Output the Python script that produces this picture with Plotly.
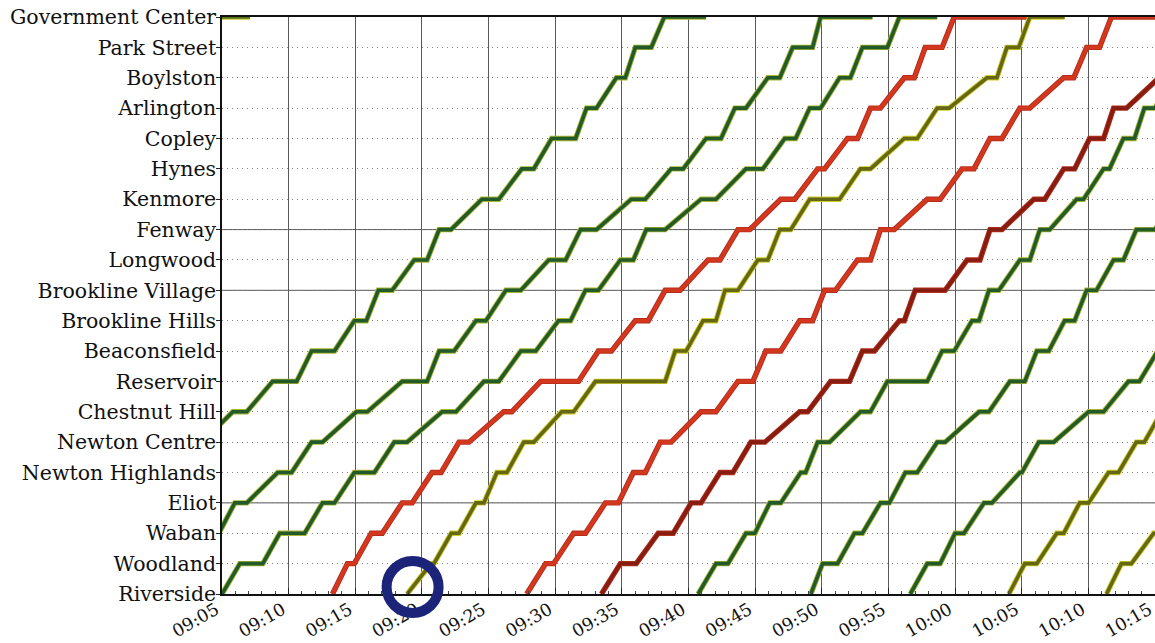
import plotly.graph_objects as go

# ---------------- data ----------------
stations = ["Riverside", "Woodland", "Waban", "Eliot", "Newton Highlands",
            "Newton Centre", "Chestnut Hill", "Reservoir", "Beaconsfield",
            "Brookline Hills", "Brookline Village", "Longwood", "Fenway",
            "Kenmore", "Hynes", "Copley", "Arlington", "Boylston",
            "Park Street", "Government Center"]
major_stations = ["Eliot", "Brookline Village", "Fenway"]

# x ticks (minutes after 09:00) and their labels
tick_minutes = [5, 10, 15, 20, 25, 30, 35, 40, 45, 50, 55, 60, 65, 70, 75]
tick_labels = ["09:05", "09:10", "09:15", "09:20", "09:25", "09:30", "09:35",
               "09:40", "09:45", "09:50", "09:55", "10:00", "10:05", "10:10", "10:15"]

# Each train: index of first station, then [arrive, depart] (minutes after 09:00)
# at each successive inbound station.
t0_start = 18
t0_times = [[2.5, 3.3], [4.1, 7.1]]

a_start = 5
a_times = [[2.5, 3.5], [5.81, 6.86], [8.80, 10.60], [11.72, 13.44], [14.93, 15.83],
           [16.73, 17.77], [19.42, 20.39], [21.29, 22.18], [24.50, 25.77], [27.49, 28.39],
           [29.73, 31.53], [32.35, 33.10], [34.59, 35.26], [36.01, 37.21], [38.18, 41.32]]

b_start = 2
b_times = [[3.0, 4.77], [5.96, 6.86], [9.18, 10.22], [11.72, 12.54], [15.08, 15.90],
           [18.52, 20.39], [21.29, 22.41], [24.05, 24.80], [26.30, 27.42], [29.51, 30.78],
           [31.90, 33.10], [35.71, 36.76], [38.70, 39.60], [41.32, 42.44], [43.48, 44.31],
           [45.95, 46.85], [47.82, 49.31], [49.91, 53.80]]

c_start = 0
c_times = [[4.0, 5.0], [6.34, 8.06], [9.33, 11.20], [12.54, 13.44], [14.93, 16.43],
           [17.92, 18.89], [21.51, 22.56], [24.65, 25.77], [27.42, 28.54], [30.25, 31.15],
           [32.27, 33.24], [34.89, 35.86], [36.83, 38.25], [40.94, 42.06], [44.31, 45.58],
           [47.22, 48.04], [49.09, 49.91], [51.33, 52.15], [53.05, 54.92], [55.82, 58.66]]

r1_start = 0
r1_times = [[13.29, 13.29], [14.41, 14.93], [16.20, 17.03], [18.52, 19.27], [20.76, 21.44],
            [22.78, 23.53], [26.14, 26.74], [28.91, 31.75], [33.24, 34.22], [36.01, 36.98],
            [38.25, 39.37], [41.47, 42.36], [43.71, 44.60], [46.92, 47.97], [49.69, 50.21],
            [51.93, 52.68], [53.65, 54.40], [56.19, 56.94], [57.76, 59.03], [59.93, 65.61]]

y1_start = 0
y1_times = [[18.89, 18.89], [20.69, 20.90], [22.20, 22.78], [24.05, 24.65], [25.62, 26.37],
            [27.64, 28.39], [30.48, 31.38], [33.02, 38.25], [39.00, 39.82], [41.09, 42.06],
            [42.74, 43.71], [45.20, 45.95], [46.85, 47.67], [49.09, 51.33], [52.90, 53.65],
            [56.19, 57.16], [58.66, 59.55], [62.39, 63.14], [63.89, 64.78], [65.61, 68.22]]

r2_start = 0
r2_times = [[27.86, 27.86], [29.28, 29.88], [31.38, 32.27], [33.77, 34.74], [35.86, 36.76],
            [37.88, 38.70], [40.94, 42.06], [43.71, 44.83], [45.80, 46.92], [48.34, 49.31],
            [50.21, 51.03], [52.68, 53.65], [54.40, 55.44], [57.91, 58.88], [60.52, 61.42],
            [62.62, 63.52], [64.86, 65.61], [68.15, 68.90], [69.87, 70.84], [71.73, 76.0]]

r3_start = 0
r3_times = [[33.47, 33.47], [34.89, 36.08], [37.73, 38.85], [40.20, 40.94], [42.36, 43.33],
            [44.68, 45.73], [48.34, 48.94], [50.66, 52.08], [53.05, 53.95], [55.82, 56.19],
            [57.01, 59.25], [60.90, 61.87], [62.62, 63.52], [65.91, 66.73], [68.15, 68.97],
            [70.09, 71.14], [71.89, 72.86], [75.3, 76.0]]

g1_start = 0
g1_times = [[40.72, 40.72], [42.06, 42.96], [44.31, 44.98], [46.10, 46.92], [48.42, 48.79],
            [49.69, 50.58], [52.90, 53.65], [54.92, 57.91], [59.03, 59.93], [61.27, 61.80],
            [62.54, 63.29], [64.86, 65.61], [66.36, 67.10], [69.12, 69.64], [71.14, 71.59],
            [72.63, 73.46], [74.20, 75.0], [76.3, 77.0]]

g2_start = 0
g2_times = [[49.18, 49.18], [50.06, 51.18], [52.45, 53.05], [54.40, 55.07], [56.27, 57.16],
            [58.66, 59.25], [61.80, 62.54], [64.11, 65.23], [66.13, 67.03], [68.22, 68.97],
            [69.87, 70.61], [71.89, 72.63], [73.60, 75.0], [76.5, 77.0]]

g3_start = 0
g3_times = [[56.64, 56.64], [57.91, 58.88], [60.00, 60.67], [62.17, 62.77], [64.86, 65.01],
            [66.28, 67.40], [70.02, 71.14], [73.01, 73.83], [75.2, 76.0]]

y2_start = 0
y2_times = [[64.04, 64.04], [65.23, 66.13], [67.63, 68.15], [69.35, 70.02], [71.51, 72.26],
            [73.60, 74.20], [75.5, 76.0]]

y3_start = 0
y3_times = [[71.36, 71.36], [72.48, 73.23], [74.9, 75.5]]

# highlighted departure (circle), minutes after 09:00
highlight_time = 19.3

# ---------------- styling ----------------
styles = {
    "green": ("#a9b530", "#225a2a"),
    "red": ("#b52c1a", "#d3381f"),
    "darkred": ("#b3321f", "#871c10"),
    "olive": ("#cfcd2a", "#646812"),
    "ygreen": ("#c8ca2c", "#56701a"),
}

trains = [
    (t0_start, t0_times, "ygreen"),
    (a_start, a_times, "green"),
    (b_start, b_times, "green"),
    (c_start, c_times, "green"),
    (r1_start, r1_times, "red"),
    (y1_start, y1_times, "olive"),
    (r2_start, r2_times, "red"),
    (r3_start, r3_times, "darkred"),
    (g1_start, g1_times, "green"),
    (g2_start, g2_times, "green"),
    (g3_start, g3_times, "green"),
    (y2_start, y2_times, "olive"),
    (y3_start, y3_times, "olive"),
]

fig = go.Figure()
for start, times, style in trains:
    xs, ys = [], []
    for i, (arr, dep) in enumerate(times):
        xs += [arr, dep]
        ys += [start + i, start + i]
    edge, core = styles[style]
    fig.add_trace(go.Scatter(x=xs, y=ys, mode="lines",
                             line=dict(color=edge, width=5.4),
                             hoverinfo="skip", showlegend=False))
    fig.add_trace(go.Scatter(x=xs, y=ys, mode="lines",
                             line=dict(color=core, width=3.6),
                             showlegend=False))

# solid horizontal lines at major stations
for s in major_stations:
    idx = stations.index(s)
    fig.add_shape(type="line", xref="paper", yref="y", x0=0, x1=1, y0=idx, y1=idx,
                  line=dict(color="#555555", width=1), layer="below")

# the page's body margin is removed (post_script below), so the figure fills the window
fig_w, fig_h = 1155, 643
m_l, m_r, m_t, m_b = 222, 0, 17, 49
x_min, x_max = 5, 75
n_st = len(stations) - 1
plot_w = fig_w - m_l - m_r
plot_h = fig_h - m_t - m_b
r_px = 26
cx = (highlight_time - x_min) / (x_max - x_min)
cy = 7 / plot_h
fig.add_shape(type="circle", xref="paper", yref="paper",
              x0=cx - r_px / plot_w, x1=cx + r_px / plot_w,
              y0=cy - r_px / plot_h, y1=cy + r_px / plot_h,
              line=dict(color="#1b2478", width=10), layer="above")

font_family = "DejaVu Serif"
fig.update_layout(
    width=fig_w, height=fig_h,
    margin=dict(l=m_l, r=m_r, t=m_t, b=m_b, autoexpand=False),
    paper_bgcolor="white", plot_bgcolor="white",
    showlegend=False,
    xaxis=dict(
        range=[x_min, x_max], tickvals=tick_minutes, ticktext=tick_labels,
        tickangle=-30, tickfont=dict(family=font_family, size=17.5, color="#111"),
        automargin=False, ticklabeloverflow="allow",
        ticklabelstandoff=-3, ticklabelshift=-6,
        showgrid=True, gridcolor="#5a5a5a", gridwidth=1,
        ticks="inside", ticklen=6, tickcolor="#222",
        minor=dict(tick0=5, dtick=1, ticks="inside", ticklen=3, tickcolor="#444", showgrid=False),
        showline=True, linecolor="#111", linewidth=1.5, mirror=True, zeroline=False,
    ),
    yaxis=dict(
        range=[0, n_st], tickvals=list(range(len(stations))), ticktext=stations,
        tickfont=dict(family=font_family, size=20.5, color="#111"),
        automargin=False, ticklabeloverflow="allow", ticklabelstandoff=-4,
        showgrid=True, gridcolor="#808080", gridwidth=1, griddash="1px,4px",
        ticks="outside", ticklen=4, tickcolor="#222",
        showline=True, linecolor="#111", linewidth=1.5, mirror=True, zeroline=False,
    ),
)

fig.write_html("out.html",
               config={"displayModeBar": False},
               post_script="document.body.style.margin='0px';"
                           "document.body.style.overflow='hidden';")
